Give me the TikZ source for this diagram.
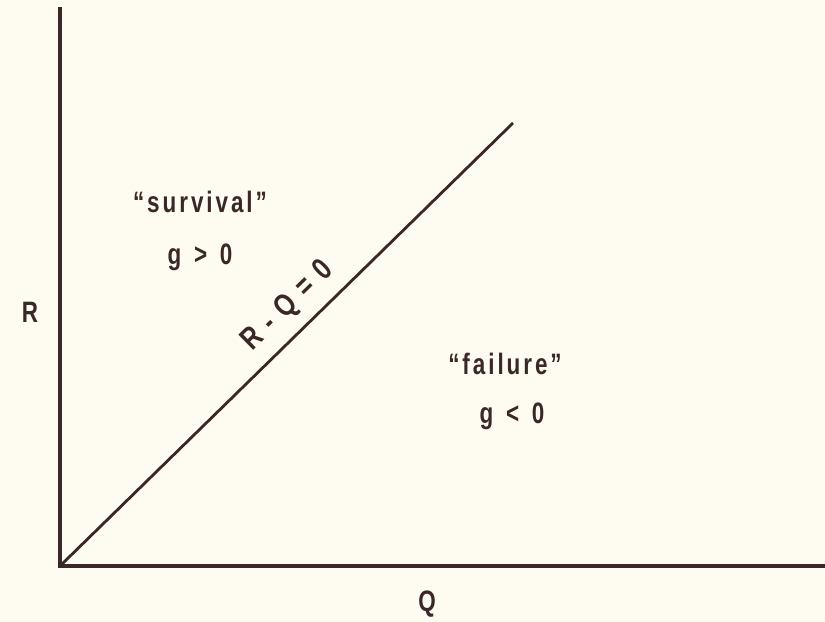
\documentclass[tikz,border=0pt]{standalone}
\usepackage{fontspec}
\setmainfont[FakeStretch=0.76,LetterSpace=10]{Liberation Sans}
\newfontfamily\slopefont[FakeStretch=0.8]{Liberation Sans}
\definecolor{paper}{RGB}{254,251,240}
\definecolor{ink}{RGB}{58,40,40}
\begin{document}
\begin{tikzpicture}[x = 0.025cm, y = -0.025cm,
         axis/.style={line width=2.3pt, ink},
         limit/.style={line width=2pt, ink},
         region/.style={font=\fontsize{21}{24}\selectfont\bfseries, text=ink},
         slope label/.style={font=\slopefont\fontsize{22}{24}\selectfont\bfseries, text=ink},
         every node/.style={inner sep=0pt}
      ]
   \fill[paper] (0, 0) rectangle (825, 622);
   \useasboundingbox (0, 0) rectangle (825, 622);

   \coordinate (origin) at (60, 566);
   \coordinate (top) at (60, 7);
   \coordinate (right) at (825, 566);
   \coordinate (end) at (513, 123);

   \node[region] (RL) at (30, 312) {R};
   \node[region] (QL) at (427, 604) {Q};
   \node[region, anchor=base] (surv) at (200, 213) {``survival''};
   \node[region, anchor=base] (gpos) at (200, 265) {g\hspace{9pt}>\hspace{9pt}0};
   \node[region, anchor=base] (fail) at (505, 375) {``failure''};
   \node[region, anchor=base] (gneg) at (512, 424) {g\hspace{9pt}<\hspace{9pt}0};

   \begin{scope}[axis]
      \draw (top) -- (origin) -- (right);
   \end{scope}
   \draw[limit] (origin) -- (end)
      node[slope label, pos=0.544, sloped, above=8pt] (line) {R\,\,-\,\,Q\,\,=\,\,0};
\end{tikzpicture}
\end{document}
